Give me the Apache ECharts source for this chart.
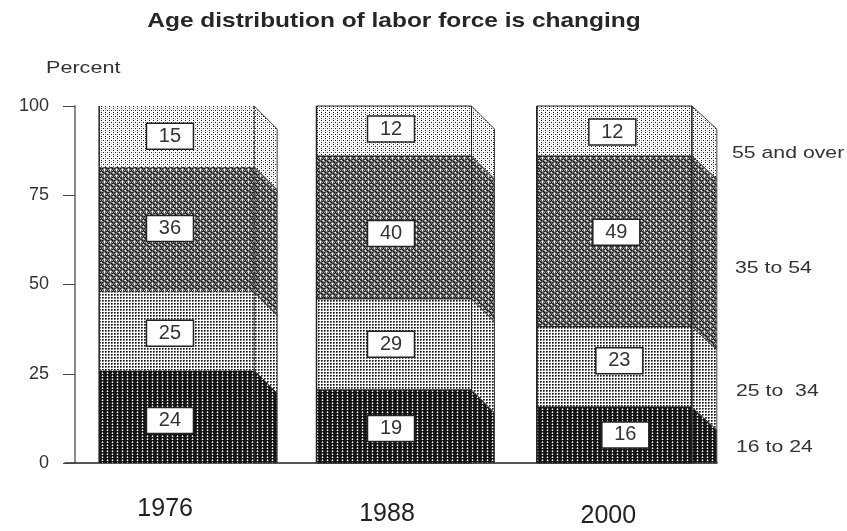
<!DOCTYPE html>
<html><head><meta charset="utf-8">
<style>html,body{margin:0;padding:0;background:#fff}#c{width:847px;height:531px}</style>
<script src="https://cdn.jsdelivr.net/npm/echarts@6/dist/echarts.min.js"></script>
</head><body><div id="c"></div>
<script>
const years = ['1976', '1988', '2000'];
const yTicks = [0, 25, 50, 75, 100];
// band heights as drawn, in percent
const drawn16to24 = [26, 20.5, 15.7];
const drawn25to34 = [21.8, 25.5, 22.5];
const drawn35to54 = [35.2, 40, 47.8];
const drawn55plus = [17, 14, 14];
// numbers printed in the boxes
const printed16to24 = [24, 19, 16];
const printed25to34 = [25, 29, 23];
const printed35to54 = [36, 40, 49];
const printed55plus = [15, 12, 12];
const ageNames = ['16 to 24', '25 to  34', '35 to 54', '55 and over'];
const titleText = 'Age distribution of labor force is changing';
const unitText = 'Percent';

const FONT = '"Liberation Sans", Arial, sans-serif';
function pattern(rows, cell) {
  const h = rows.length, w = rows[0].length;
  const cv = document.createElement('canvas');
  cv.width = w; cv.height = h;
  const g = cv.getContext('2d');
  rows.forEach((r, y) => [...r].forEach((ch, x) => { g.fillStyle = cell[ch]; g.fillRect(x, y, 1, 1); }));
  return { image: cv, repeat: 'repeat' };
}
const cells = { '#': '#141414', 'x': '#555555', 'o': '#a8a8a8', '.': '#ffffff' };
const fills = [
  pattern(['##o##', '#x.x#', '#####'], cells),
  pattern(['#x.#x.', 'xo.xo.', '......'], cells),
  pattern(['#xox#x', 'xo.oxx', 'ox.xo#', '#xox#x', 'x#xxo.', 'oxx#xo'], cells),
  pattern(['.#...#..', '........', '.o.#.o.#', '........', '.#...#..', '...o...o'], cells)
];

const stacks = [drawn16to24, drawn25to34, drawn35to54, drawn55plus];
const printed = [printed16to24, printed25to34, printed35to54, printed55plus];
const nudgeX = [3, 3, 6], depthX = [23, 23, 25], DROP = 23, HALF = 77.5;
const boxNudgeY = [[4, 2, 0], [2, 0, -6], [-1, 6, -9], [0, -2, 1]];
const boxNudgeX = [[-6.7, -3, 11], [-6.7, -3, 5], [-6.7, -3, 2], [-6.7, -3, -2]];

function render(level) {
  return function (params, api) {
    const i = api.value(0), c = api.coord([i, 0]);
    const base = c[1];
    const cx = c[0] + nudgeX[i];
    const yLow = api.coord([i, api.value(1)])[1];
    const yHigh = api.coord([i, api.value(2)])[1];
    const xl = cx - HALF, xr = cx + HALF, xs = xr + depthX[i];
    const fill = fills[level];
    const cy = (yLow + yHigh) / 2 + boxNudgeY[level][i];
    const bx = cx + boxNudgeX[level][i];
    const outlined = i > 0;
    return {
      type: 'group',
      children: [
        { type: 'polygon', shape: { points: [[xr, yHigh], [xs, yHigh + DROP], [xs, Math.min(yLow + DROP, base)], [xr, Math.min(yLow, base)]].concat(yLow + DROP > base ? [[xr, base]] : []) },
          style: { fill, stroke: '#444', lineWidth: 1 } },
        { type: 'rect', shape: { x: xl, y: yHigh, width: HALF * 2, height: yLow - yHigh },
          style: { fill, stroke: outlined ? '#222' : null, lineWidth: 1 } },
        { type: 'line', shape: { x1: xl, y1: yHigh, x2: xl, y2: yLow }, style: { stroke: '#222', lineWidth: 1.5 } },
        { type: 'line', shape: { x1: xr, y1: yHigh, x2: xr, y2: yLow }, style: { stroke: '#222', lineWidth: 1, lineDash: i === 0 ? [3, 2] : null } },
        { type: 'rect', shape: { x: bx - 23.5, y: cy - 13, width: 47, height: 26 },
          style: { fill: '#fff', stroke: '#222', lineWidth: 1.5 } },
        { type: 'text', style: { x: bx, y: cy, text: String(api.value(3)), fill: '#333', font: '20px ' + FONT, align: 'center', verticalAlign: 'middle' } }
      ]
    };
  };
}

const series = stacks.map((vals, level) => ({
  type: 'custom', name: ageNames[level], clip: false,
  encode: { x: 0, y: [1, 2] },
  renderItem: render(level),
  data: years.map((y, i) => {
    let low = 0;
    for (let k = 0; k < level; k++) low += stacks[k][i];
    return [i, low, low + vals[i], printed[level][i]];
  })
}));

const yearShift = { a: { padding: [0, 17, 0, 0] }, b: { padding: [5, 8, 0, 0] }, c: { padding: [7, 0, 0, 0] } };
for (const k in yearShift) Object.assign(yearShift[k], { fontSize: 25, fontFamily: FONT, color: '#222' });

const chart = echarts.init(document.getElementById('c'), null, { renderer: 'canvas' });
const legendY = [447, 391, 268, 153], legendX = [736, 736, 735, 732];
const stretchedText = (text, x, y, size, sx) => ({
  type: 'text', x, y, scaleX: sx,
  style: { text, font: size + 'px ' + FONT, fill: '#333', verticalAlign: 'middle' }
});
chart.setOption({
  animation: false,
  backgroundColor: '#fff',
  grid: { left: 65, top: 106, width: 652, height: 357 },
  xAxis: { type: 'category', data: years, boundaryGap: true,
    axisLine: { lineStyle: { color: '#222', width: 1.5 } }, axisTick: { show: false },
    axisLabel: { margin: 34, formatter: (v, i) => '{' + 'abc'[i] + '|' + v + '}', rich: yearShift } },
  yAxis: { type: 'value', min: 0, max: 100, interval: 25, offset: -10, splitLine: { show: false },
    axisLine: { show: true, lineStyle: { color: '#8a8a8a', width: 2 } },
    axisTick: { show: true, length: 12, lineStyle: { color: '#444' } },
    axisLabel: { margin: 26, fontSize: 18, fontFamily: FONT, color: '#333', customValues: yTicks } },
  graphic: [
    { type: 'text', x: 394, y: 21, scaleX: 1.165,
      style: { text: titleText, font: 'bold 21px ' + FONT, fill: '#262626', align: 'center', verticalAlign: 'middle' } },
    stretchedText(unitText, 46, 68, 17, 1.27)
  ].concat(ageNames.map((n, i) => stretchedText(n, legendX[i], legendY[i], 17, 1.25))),
  series
});
</script></body></html>
